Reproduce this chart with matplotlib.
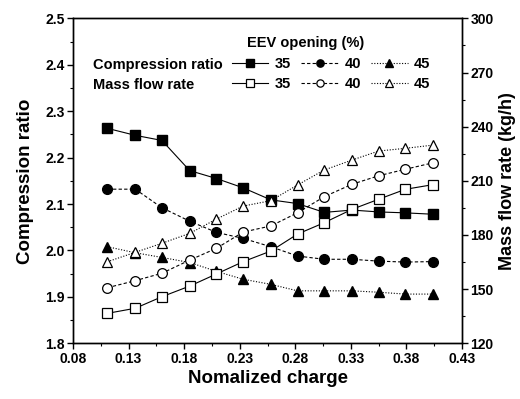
import matplotlib
matplotlib.use('agg')
from matplotlib import pyplot as plt
from matplotlib.ticker import MultipleLocator, FormatStrFormatter
import numpy as np

plt.rcParams['font.family'] = ['Liberation Sans', 'DejaVu Sans']
plt.rcParams['font.weight'] = 'bold'

# normalized charge
charge = [0.111, 0.136, 0.160, 0.185, 0.209, 0.233, 0.258, 0.282, 0.306, 0.331, 0.355, 0.379, 0.404]

# compression ratio for EEV opening 35/40/45 %
cr_35 = [2.263, 2.248, 2.237, 2.172, 2.155, 2.135, 2.109, 2.101, 2.082, 2.087, 2.083, 2.081, 2.078]
cr_40 = [2.132, 2.132, 2.092, 2.063, 2.039, 2.026, 2.008, 1.988, 1.981, 1.981, 1.977, 1.975, 1.976]
cr_45 = [2.008, 1.995, 1.985, 1.974, 1.955, 1.938, 1.927, 1.913, 1.913, 1.913, 1.910, 1.906, 1.906]

# mass flow rate (kg/h)
mf_35 = [136.6, 139.4, 145.8, 151.7, 158.4, 165.2, 171.1, 180.5, 186.8, 194.2, 199.8, 205.3, 207.9]
mf_40 = [150.8, 154.7, 158.8, 166.1, 172.6, 181.6, 185.0, 192.3, 201.2, 208.1, 212.8, 216.4, 220.0]
mf_45 = [165.2, 170.4, 175.4, 180.9, 188.8, 196.0, 199.0, 207.7, 216.0, 221.5, 226.5, 228.0, 229.8]

openings = ['35', '40', '45']
xticks = [0.08, 0.13, 0.18, 0.23, 0.28, 0.33, 0.38, 0.43]


def main():
	fig = plt.figure(figsize=(5.2, 3.99), dpi=100)
	ax1 = fig.add_axes([0.1404, 0.1396, 0.7481, 0.8144])
	ax2 = ax1.twinx()

	styles = ['-', (0, (3, 2)), (0, (1, 1.5))]
	markers = ['s', 'o', '^']
	ms = 7
	cr_lines = []
	mf_lines = []
	for cr, mf, ls, mk in zip([cr_35, cr_40, cr_45], [mf_35, mf_40, mf_45], styles, markers):
		l1, = ax1.plot(charge, cr, color='black', lw=0.8, ls=ls, marker=mk, ms=ms,
			mfc='black', mec='black', zorder=3)
		l2, = ax2.plot(charge, mf, color='black', lw=0.8, ls=ls, marker=mk, ms=ms,
			mfc='white', mec='black', mew=0.9, zorder=3)
		cr_lines.append(l1)
		mf_lines.append(l2)

	ax1.set_xlim(0.08, 0.43)
	ax1.set_ylim(1.8, 2.5)
	ax2.set_ylim(120, 300)
	ax1.set_xticks(xticks)
	ax1.set_xticks(np.array(xticks[:-1]) + 0.025, minor=True)
	ax1.xaxis.set_major_formatter(FormatStrFormatter('%.2f'))
	ax1.yaxis.set_major_locator(MultipleLocator(0.1))
	ax1.yaxis.set_minor_locator(MultipleLocator(0.05))
	ax1.yaxis.set_major_formatter(FormatStrFormatter('%.1f'))
	ax2.yaxis.set_major_locator(MultipleLocator(30))
	ax2.yaxis.set_minor_locator(MultipleLocator(15))

	for ax in (ax1, ax2):
		ax.tick_params(which='major', direction='out', length=4, width=1, labelsize=10)
		ax.tick_params(which='minor', direction='out', length=2.5, width=0.8)
		for lab in ax.get_xticklabels() + ax.get_yticklabels():
			lab.set_fontweight('bold')
		for sp in ax.spines.values():
			sp.set_linewidth(1)
	ax1.tick_params(axis='both', pad=2)
	ax2.tick_params(axis='y', pad=2)

	ax1.set_xlabel('Nomalized charge', fontsize=13.5, fontweight='bold', labelpad=3)
	ax1.set_ylabel('Compression ratio', fontsize=13.5, fontweight='bold', labelpad=8)
	ax2.set_ylabel('Mass flow rate (kg/h)', fontsize=13, fontweight='bold', labelpad=4)

	# legend: rows = quantity, columns = EEV opening
	handles = []
	labels = []
	for i in range(3):
		handles += [cr_lines[i], mf_lines[i]]
		labels += [openings[i], openings[i]]
	ax2.legend(handles, labels, ncol=3, frameon=False, loc='upper left',
		bbox_to_anchor=(0.39, 0.902), handlelength=2.5, handletextpad=0.45,
		columnspacing=0.7, labelspacing=0.4, borderpad=0, markerscale=0.75,
		prop={'size': 10.5, 'weight': 'bold'})
	ax2.text(0.052, 0.856, 'Compression ratio', transform=ax2.transAxes,
		fontsize=10.5, fontweight='bold', va='center', ha='left')
	ax2.text(0.052, 0.794, 'Mass flow rate', transform=ax2.transAxes,
		fontsize=10.5, fontweight='bold', va='center', ha='left')
	ax2.text(0.447, 0.924, 'EEV opening (%)', transform=ax2.transAxes,
		fontsize=10.5, fontweight='bold', va='center', ha='left')

	plt.savefig('out.png', dpi=100)


main()
